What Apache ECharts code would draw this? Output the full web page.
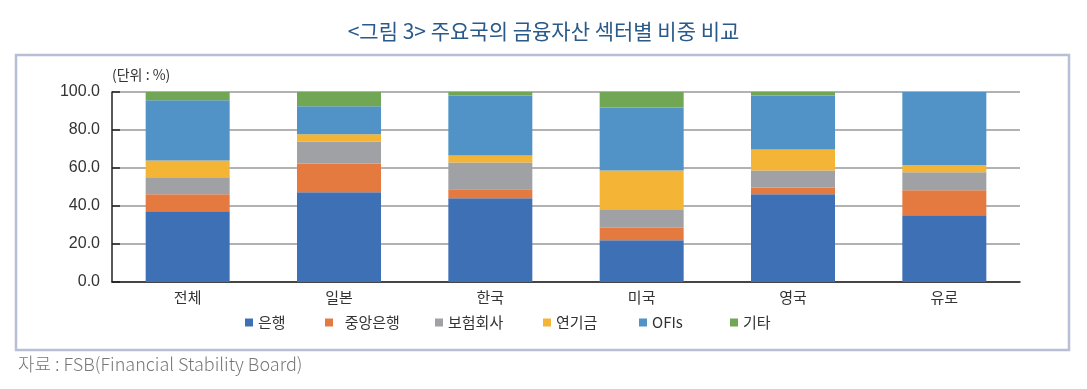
<!DOCTYPE html>
<html><head><meta charset="utf-8">
<script src="https://cdn.jsdelivr.net/npm/echarts@6/dist/echarts.min.js"></script>
<style>html,body{margin:0;padding:0;background:#fff}#c{width:1087px;height:389px}</style>
</head><body><div id="c"></div>
<script>
const categories = ['전체', '일본', '한국', '미국', '영국', '유로'];
const seriesNames = ['은행', '중앙은행', '보험회사', '연기금', 'OFIs', '기타'];
const bank = [37.2, 47.2, 44.1, 22.0, 46.2, 35.1];
const centralBank = [9.0, 15.2, 4.7, 6.5, 3.6, 13.2];
const insurance = [8.9, 11.6, 14.1, 9.8, 8.9, 9.4];
const pension = [8.9, 3.8, 3.7, 20.4, 11.1, 3.7];
const ofis = [31.6, 14.7, 31.5, 33.1, 28.3, 38.6];
const others = [4.4, 7.5, 1.9, 8.2, 1.9, 0.0];
const yTicks = [0, 20, 40, 60, 80, 100];

const values = [bank, centralBank, insurance, pension, ofis, others];
const colors = ['#3E70B6', '#E57A41', '#A0A1A4', '#F4B436', '#5293C7', '#70A654'];
const legendLeft = [245, 325, 435, 543, 639, 730];
const legendPad = ['', '  ', '', '', '', ''];
const KR = '"Noto Sans CJK KR", "Noto Sans", sans-serif';

const chart = echarts.init(document.getElementById('c'), null, {renderer: 'canvas'});
chart.setOption({
  animation: false,
  color: colors,
  title: {
    text: '<그림 3> 주요국의 금융자산 섹터별 비중 비교',
    left: 'center', top: 16,
    textStyle: {fontFamily: KR, fontSize: 21, fontWeight: 'normal', color: '#2A5A8A'}
  },
  legend: seriesNames.map((n, i) => ({
    data: [n], left: legendLeft[i], top: 315, padding: 0,
    itemWidth: 8, itemHeight: 8, icon: 'rect', itemGap: 0,
    formatter: name => legendPad[i] + name,
    textStyle: {fontFamily: KR, fontSize: 15, color: '#333'}
  })),
  grid: {left: 112, right: 67, top: 92, bottom: 107},
  xAxis: {
    type: 'category', data: categories,
    axisLine: {lineStyle: {color: '#222', width: 1.5}},
    axisTick: {show: false},
    axisLabel: {fontFamily: KR, fontSize: 15, color: '#333', margin: 8}
  },
  yAxis: {
    type: 'value', min: yTicks[0], max: yTicks[yTicks.length - 1], interval: 20,
    axisLine: {show: true, lineStyle: {color: '#222', width: 1.5}},
    axisTick: {show: true, inside: true, length: 8, lineStyle: {color: '#222', width: 1.5}},
    splitLine: {lineStyle: {color: '#999', width: 1.5}},
    axisLabel: {fontFamily: '"Liberation Sans", Arial, sans-serif', fontSize: 16, color: '#333', margin: 12,
      formatter: v => v.toFixed(1)}
  },
  series: seriesNames.map((n, i) => ({
    name: n, type: 'bar', stack: 'total', barWidth: 84,
    data: values[i], itemStyle: {color: colors[i]}
  })),
  graphic: [
    {type: 'rect', shape: {x: 16, y: 55, width: 1053, height: 295},
     style: {fill: 'none', stroke: '#B7BFD7', lineWidth: 2.5}, silent: true},
    {type: 'text', left: 112, top: 68,
     style: {text: '(단위 : %)', font: '14px ' + KR, fill: '#333'}},
    {type: 'text', left: 18, top: 355,
     style: {text: '자료 : FSB(Financial Stability Board)', font: '300 18px ' + KR, fill: '#777'}}
  ]
});
</script>
</body></html>
